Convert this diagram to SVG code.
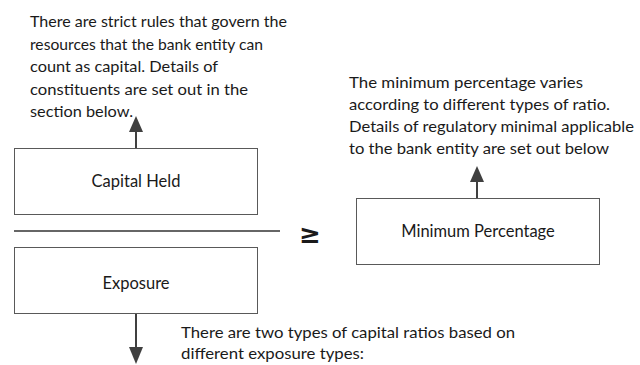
<svg xmlns="http://www.w3.org/2000/svg" width="640" height="365" viewBox="0 0 640 365">
<style>
.box{fill:#fff;stroke:#595959;stroke-width:1}
.lbl{font-family:Lato,"Open Sans","Liberation Sans",sans-serif;font-size:16.5px;fill:#1a1a1a}
.note{font-family:Lato,"Open Sans","Liberation Sans",sans-serif;font-size:15.8px;fill:#1a1a1a}
.conn{stroke:#404040;stroke-width:2;fill:none}
.head{fill:#404040}
</style>
<rect width="640" height="365" fill="#fff"/>
<g id="note-capital">
<text class="note" x="30" y="27" textLength="257" lengthAdjust="spacingAndGlyphs">There are strict rules that govern the</text>
<text class="note" x="30" y="49.5" textLength="233" lengthAdjust="spacingAndGlyphs">resources that the bank entity can</text>
<text class="note" x="30" y="72" textLength="188" lengthAdjust="spacingAndGlyphs">count as capital. Details of</text>
<text class="note" x="30" y="94.5" textLength="218" lengthAdjust="spacingAndGlyphs">constituents are set out in the</text>
<text class="note" x="30" y="117" textLength="103" lengthAdjust="spacingAndGlyphs">section below.</text>
</g>
<g id="note-minimum">
<text class="note" x="349" y="88" textLength="234" lengthAdjust="spacingAndGlyphs">The minimum percentage varies</text>
<text class="note" x="349" y="110" textLength="261" lengthAdjust="spacingAndGlyphs">according to different types of ratio.</text>
<text class="note" x="349" y="132" textLength="285" lengthAdjust="spacingAndGlyphs">Details of regulatory minimal applicable</text>
<text class="note" x="349" y="154" textLength="260" lengthAdjust="spacingAndGlyphs">to the bank entity are set out below</text>
</g>
<g id="capital-held">
<rect class="box" x="14.5" y="148.5" width="243" height="66"/>
<text class="lbl" x="136" y="187" text-anchor="middle">Capital Held</text>
</g>
<g id="divider">
<line x1="14" y1="231" x2="280" y2="231" stroke="#333" stroke-width="1.5"/>
<text x="310" y="243" text-anchor="middle" font-family="'DejaVu Sans',sans-serif" font-size="26" font-weight="bold" fill="#1a1a1a">≥</text>
</g>
<g id="exposure">
<rect class="box" x="14.5" y="247.5" width="243" height="66"/>
<text class="lbl" x="136" y="289" text-anchor="middle">Exposure</text>
</g>
<g id="minimum-percentage">
<rect class="box" x="356.5" y="198.5" width="243" height="66"/>
<text class="lbl" x="478" y="237" text-anchor="middle">Minimum Percentage</text>
</g>
<g id="note-exposure">
<text class="note" x="181" y="338" textLength="334" lengthAdjust="spacingAndGlyphs">There are two types of capital ratios based on</text>
<text class="note" x="181" y="359" textLength="183" lengthAdjust="spacingAndGlyphs">different exposure types:</text>
</g>
<g id="connectors">
<line class="conn" x1="136" y1="148" x2="136" y2="130"/>
<polygon class="head" points="136,116 129,132 143,132"/>
<line class="conn" x1="477" y1="198" x2="477" y2="180"/>
<polygon class="head" points="477,166 470,182 484,182"/>
<line class="conn" x1="136" y1="314" x2="136" y2="349"/>
<polygon class="head" points="136,364 129,347 143,347"/>
</g>
</svg>
